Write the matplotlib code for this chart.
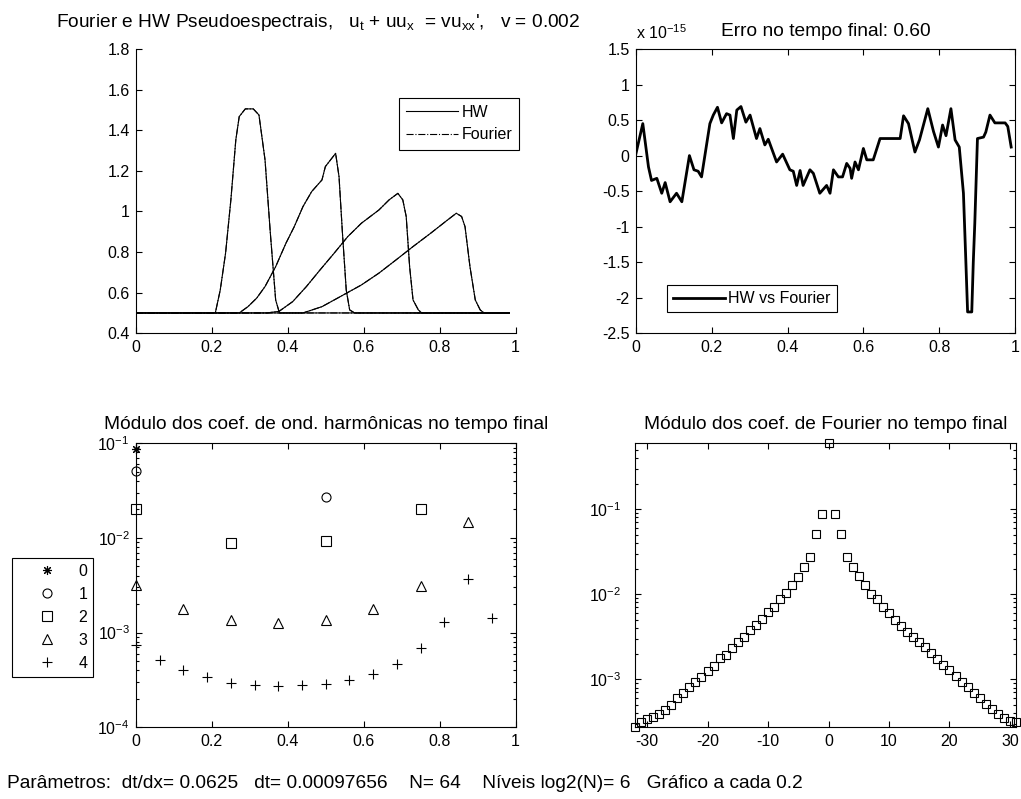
import numpy as np
import matplotlib.pyplot as plt
from matplotlib.ticker import LogLocator, NullFormatter

plt.rcParams['font.family'] = ['Liberation Sans', 'DejaVu Sans']
plt.rcParams['mathtext.default'] = 'regular'
plt.rcParams['axes.unicode_minus'] = False
plt.rcParams['axes.linewidth'] = 0.8

FS_TICK = 11.5   # rotulos dos eixos e legendas
FS_TITLE = 13.8  # titulos e linha de parametros

# solucoes u(x, t) nos tempos 0, 0.2, 0.4 e 0.6 (HW e Fourier coincidem)
u_t0_x = [0, 0.209, 0.222, 0.236, 0.250, 0.263, 0.272, 0.288, 0.309, 0.324, 0.340, 0.354, 0.368, 0.378, 0.984]
u_t0_y = [0.5, 0.5, 0.613, 0.794, 1.057, 1.352, 1.467, 1.505, 1.505, 1.475, 1.254, 0.893, 0.564, 0.5, 0.5]

u_t2_x = [0, 0.272, 0.295, 0.318, 0.340, 0.368, 0.395, 0.417, 0.440, 0.463, 0.490, 0.499, 0.526, 0.535,
          0.544, 0.554, 0.563, 0.576, 0.984]
u_t2_y = [0.5, 0.5, 0.531, 0.573, 0.630, 0.728, 0.843, 0.925, 1.024, 1.098, 1.155, 1.221, 1.286, 1.171,
          0.893, 0.613, 0.515, 0.5, 0.5]

u_t4_x = [0, 0.345, 0.377, 0.413, 0.449, 0.485, 0.522, 0.558, 0.594, 0.640, 0.667, 0.690, 0.703, 0.712,
          0.721, 0.730, 0.744, 0.753, 0.984]
u_t4_y = [0.5, 0.5, 0.508, 0.556, 0.630, 0.712, 0.794, 0.876, 0.942, 1.007, 1.057, 1.089, 1.057, 0.975,
          0.728, 0.564, 0.515, 0.5, 0.5]

u_t6_x = [0, 0.440, 0.490, 0.531, 0.594, 0.640, 0.685, 0.730, 0.776, 0.821, 0.844, 0.858, 0.867, 0.880,
          0.894, 0.907, 0.917, 0.984]
u_t6_y = [0.5, 0.5, 0.531, 0.573, 0.638, 0.696, 0.761, 0.827, 0.892, 0.958, 0.991, 0.975, 0.925, 0.728,
          0.564, 0.515, 0.5, 0.5]

# erro HW vs Fourier no tempo final (em unidades de 1e-15)
err_x = [0, 0.018, 0.033, 0.041, 0.055, 0.068, 0.077, 0.090, 0.107, 0.121, 0.141, 0.153, 0.164, 0.173,
         0.195, 0.204, 0.215, 0.226, 0.239, 0.248, 0.257, 0.266, 0.277, 0.290, 0.301, 0.318, 0.327, 0.340,
         0.349, 0.371, 0.387, 0.406, 0.415, 0.424, 0.433, 0.441, 0.459, 0.468, 0.485, 0.503, 0.512, 0.521,
         0.534, 0.545, 0.556, 0.565, 0.569, 0.578, 0.587, 0.600, 0.609, 0.626, 0.644, 0.697, 0.706, 0.719,
         0.736, 0.748, 0.770, 0.785, 0.798, 0.809, 0.818, 0.831, 0.842, 0.853, 0.864, 0.870, 0.875, 0.886,
         0.890, 0.894, 0.901, 0.917, 0.923, 0.934, 0.947, 0.974, 0.981, 0.990]
err_v = [0.03, 0.45, -0.16, -0.35, -0.32, -0.53, -0.38, -0.65, -0.53, -0.65, 0.0, -0.20, -0.22, -0.30,
         0.45, 0.57, 0.68, 0.46, 0.59, 0.57, 0.24, 0.64, 0.69, 0.47, 0.57, 0.24, 0.38, 0.15,
         0.23, -0.09, 0.02, -0.20, -0.22, -0.42, -0.21, -0.42, -0.20, -0.25, -0.53, -0.42, -0.53, -0.20,
         -0.30, -0.30, -0.11, -0.18, -0.32, -0.09, -0.20, 0.10, -0.06, -0.06, 0.24, 0.24, 0.56, 0.45,
         0.05, 0.22, 0.66, 0.34, 0.12, 0.43, 0.28, 0.66, 0.22, 0.12, -0.53, -1.43, -2.20, -2.20,
         -1.50, -0.95, 0.24, 0.26, 0.33, 0.57, 0.46, 0.46, 0.41, 0.12]

# modulo dos coeficientes de ondaletas harmonicas, por nivel
wav_levels = [0, 1, 2, 3, 4]
wav_markers = [(8, 2, 0), 'o', 's', '^', '+']
wav_coef = [
    [0.086],
    [0.051, 0.0271],
    [0.0201, 0.00886, 0.00937, 0.0201],
    [0.00322, 0.00177, 0.00137, 0.00126, 0.00135, 0.00177, 0.00312, 0.01476],
    [7.36e-4, 5.12e-4, 4.0e-4, 3.36e-4, 2.97e-4, 2.81e-4, 2.74e-4, 2.81e-4,
     2.9e-4, 3.14e-4, 3.69e-4, 4.71e-4, 6.95e-4, 1.28e-3, 3.67e-3, 1.43e-3],
]

# modulo dos coeficientes de Fourier, k = -32 .. 31
fourier_k = np.arange(-32, 32)
fourier_coef = [2.72e-4, 3.17e-4, 3.38e-4, 3.63e-4, 3.91e-4, 4.36e-4, 4.99e-4, 5.97e-4,
                6.84e-4, 8.19e-4, 9.22e-4, 1.07e-3, 1.26e-3, 1.45e-3, 1.77e-3, 1.93e-3,
                2.32e-3, 2.72e-3, 3.17e-3, 3.80e-3, 4.35e-3, 5.12e-3, 6.14e-3, 7.14e-3,
                8.73e-3, 1.04e-2, 1.29e-2, 1.61e-2, 2.11e-2, 2.72e-2, 5.08e-2, 8.81e-2,
                0.597, 0.0881, 0.0508, 0.0272, 0.0211, 0.0164, 0.01286, 0.01008,
                8.73e-3, 7.15e-3, 5.98e-3, 4.99e-3, 4.27e-3, 3.63e-3, 3.17e-3, 2.72e-3,
                2.38e-3, 2.02e-3, 1.72e-3, 1.47e-3, 1.29e-3, 1.10e-3, 9.38e-4, 8.05e-4,
                6.84e-4, 5.97e-4, 5.08e-4, 4.44e-4, 3.87e-4, 3.48e-4, 3.26e-4, 3.17e-4]

x_ticks = [0, 0.2, 0.4, 0.6, 0.8, 1]
x_labels = ['0', '0.2', '0.4', '0.6', '0.8', '1']
u_ticks = [0.4, 0.6, 0.8, 1.0, 1.2, 1.4, 1.6, 1.8]
u_labels = ['0.4', '0.6', '0.8', '1', '1.2', '1.4', '1.6', '1.8']
err_ticks = [-2.5, -2, -1.5, -1, -0.5, 0, 0.5, 1, 1.5]
err_labels = ['-2.5', '-2', '-1.5', '-1', '-0.5', '0', '0.5', '1', '1.5']
k_ticks = [-30, -20, -10, 0, 10, 20, 30]
k_labels = ['-30', '-20', '-10', '0', '10', '20', '30']

params_text = ('Parâmetros:  dt/dx= 0.0625   dt= 0.00097656    N= 64    '
               'Níveis log2(N)= 6   Gráfico a cada 0.2')


def matlab_ticks(ax, box=True):
    ax.tick_params(which='both', direction='in', top=box, right=box, labelsize=FS_TICK,
                   color='black', width=0.8)
    ax.tick_params(which='major', length=4)
    ax.tick_params(which='minor', length=2)
    ax.tick_params(axis='x', pad=5)
    ax.tick_params(axis='y', pad=4.5)


def log_minor(ax):
    ax.yaxis.set_major_locator(LogLocator(base=10, numticks=10))
    ax.yaxis.set_minor_locator(LogLocator(base=10, subs=np.arange(2, 10), numticks=10))
    ax.yaxis.set_minor_formatter(NullFormatter())


def boxed_legend(ax_or_fig, **kwargs):
    leg = ax_or_fig.legend(loc='center', fancybox=False, edgecolor='black', framealpha=1,
                           fontsize=FS_TICK, borderaxespad=0, **kwargs)
    leg.get_frame().set_linewidth(0.8)
    return leg


def plot_solutions(ax):
    curves = [(u_t0_x, u_t0_y), (u_t2_x, u_t2_y), (u_t4_x, u_t4_y), (u_t6_x, u_t6_y)]
    for i, (x, y) in enumerate(curves):
        ax.plot(x, y, color='black', lw=0.8, label='HW' if i == 0 else None)
        ax.plot(x, y, color='black', lw=0.8, ls='-.', label='Fourier' if i == 0 else None)
    ax.set_xlim(0, 1)
    ax.set_ylim(0.4, 1.8)
    ax.set_xticks(x_ticks, x_labels)
    ax.set_yticks(u_ticks, u_labels)
    ax.spines['top'].set_visible(False)
    ax.spines['right'].set_visible(False)
    matlab_ticks(ax, box=False)
    ax.set_title(r"Fourier e HW Pseudoespectrais,   u$_t$ + uu$_x$  = vu$_{xx}$',   v = 0.002",
                 fontsize=FS_TITLE, x=0.48, pad=16)
    boxed_legend(ax, bbox_to_anchor=(0.852, 0.737), handlelength=3.25, handletextpad=0.2,
                 labelspacing=0.47, borderpad=0.45)


def plot_error(ax):
    ax.plot(err_x, err_v, color='black', lw=2, label='HW vs Fourier')
    ax.set_xlim(0, 1)
    ax.set_ylim(-2.5, 1.5)
    ax.set_xticks(x_ticks, x_labels)
    ax.set_yticks(err_ticks, err_labels)
    matlab_ticks(ax)
    ax.set_title('Erro no tempo final: 0.60', fontsize=FS_TITLE, pad=9)
    ax.annotate('x 10$^{-15}$', xy=(0, 1), xycoords='axes fraction', xytext=(0, 7),
                textcoords='offset points', fontsize=FS_TICK, va='baseline', ha='left')
    boxed_legend(ax, bbox_to_anchor=(0.306, 0.121), handlelength=3.25, handletextpad=0.2,
                 borderpad=0.38)


def plot_wavelet_coef(ax):
    handles = []
    for level, marker, coef in zip(wav_levels, wav_markers, wav_coef):
        pos = np.arange(len(coef)) / len(coef)
        line, = ax.plot(pos, coef, ls='none', marker=marker, ms=6.5, mfc='none',
                        mec='black', mew=0.8, clip_on=False, label=str(level))
        handles.append(line)
    ax.set_yscale('log')
    ax.set_xlim(0, 1)
    ax.set_ylim(1e-4, 1e-1)
    ax.set_xticks(x_ticks, x_labels)
    log_minor(ax)
    matlab_ticks(ax)
    ax.set_title('Módulo dos coef. de ond. harmônicas no tempo final', fontsize=FS_TITLE, pad=10)
    return handles


def plot_fourier_coef(ax):
    ax.plot(fourier_k, fourier_coef, ls='none', marker='s', ms=6, mfc='none', mec='black',
            mew=0.8, clip_on=False)
    ax.set_yscale('log')
    ax.set_xlim(fourier_k[0], fourier_k[-1])
    ax.set_ylim(min(fourier_coef), max(fourier_coef))
    ax.set_xticks(k_ticks, k_labels)
    log_minor(ax)
    matlab_ticks(ax)
    ax.tick_params(axis='y', pad=10)
    ax.set_title('Módulo dos coef. de Fourier no tempo final', fontsize=FS_TITLE, pad=10)


fig = plt.figure(figsize=(10.21, 7.99), dpi=100)
ax_u = fig.add_axes([0.1332, 0.5829, 0.3717, 0.3558])
ax_err = fig.add_axes([0.6229, 0.5829, 0.3712, 0.3558])
ax_wav = fig.add_axes([0.1332, 0.0897, 0.3717, 0.3555])
ax_four = fig.add_axes([0.6219, 0.0897, 0.3732, 0.3555])

plot_solutions(ax_u)
plot_error(ax_err)
wav_handles = plot_wavelet_coef(ax_wav)
plot_fourier_coef(ax_four)

boxed_legend(fig, handles=wav_handles, bbox_to_anchor=(0.0514, 0.2272), handlelength=3.7,
             handletextpad=0.1, labelspacing=0.5, borderpad=0.35)

fig.text(7 / 1021, 1 - 783 / 799, params_text, fontsize=FS_TITLE, ha='left', va='center')

plt.savefig('out.png', dpi=100)
plt.close()
